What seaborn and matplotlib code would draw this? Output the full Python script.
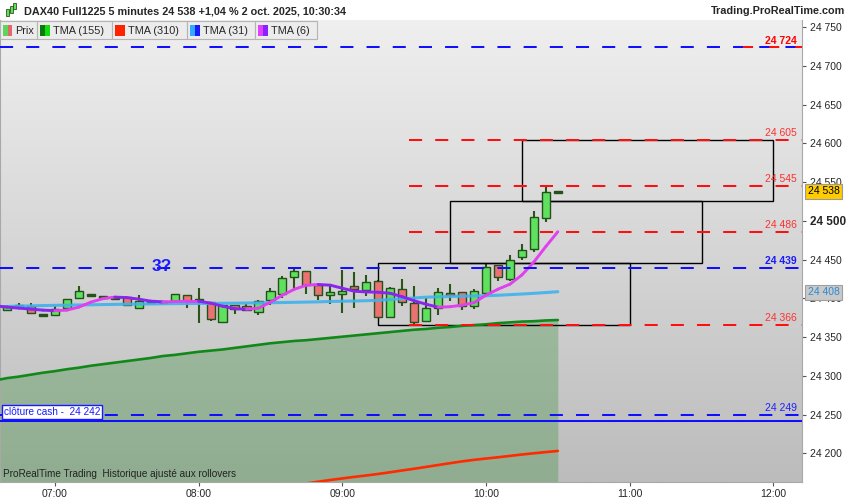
import numpy as np
import matplotlib
matplotlib.use("Agg")
import matplotlib.pyplot as plt
from matplotlib.collections import LineCollection
from matplotlib.colors import LinearSegmentedColormap
from matplotlib.patches import Rectangle
import matplotlib.transforms as mtransforms
import seaborn as sns

sns.set_theme(style="white")
plt.rcParams["font.family"] = ["Liberation Sans", "DejaVu Sans"]

# 5 min candles, first one at 06:40
first_candle = "06:40"
opens  = [24385, 24391, 24390, 24379, 24378, 24387, 24401, 24404, 24402, 24401,
          24402, 24387, 24395, 24395, 24396, 24404, 24398, 24395, 24370, 24391,
          24390, 24382, 24398, 24406, 24427, 24435, 24417, 24404, 24405, 24416,
          24411, 24422, 24376, 24412, 24394, 24371, 24387, 24407, 24408, 24390,
          24407, 24443, 24425, 24453, 24464, 24504, 24537]
highs  = [24392, 24394, 24394, 24379, 24390, 24399, 24416, 24405, 24402, 24401,
          24402, 24404, 24396, 24396, 24405, 24404, 24413, 24395, 24391, 24392,
          24393, 24398, 24413, 24429, 24439, 24435, 24420, 24419, 24437, 24434,
          24430, 24424, 24415, 24425, 24416, 24400, 24413, 24419, 24408, 24412,
          24446, 24443, 24456, 24470, 24513, 24546, 24539]
lows   = [24384, 24388, 24380, 24378, 24378, 24387, 24401, 24404, 24401, 24400,
          24391, 24387, 24393, 24394, 24396, 24388, 24368, 24371, 24369, 24380,
          24384, 24378, 24391, 24401, 24412, 24406, 24398, 24393, 24381, 24387,
          24403, 24376, 24376, 24390, 24367, 24371, 24378, 24396, 24385, 24386,
          24407, 24422, 24423, 24450, 24460, 24499, 24537]
closes = [24390, 24390, 24381, 24378, 24386, 24399, 24410, 24404, 24402, 24400,
          24391, 24396, 24395, 24395, 24405, 24396, 24397, 24373, 24391, 24386,
          24385, 24396, 24409, 24426, 24435, 24417, 24404, 24408, 24409, 24412,
          24421, 24376, 24413, 24395, 24369, 24388, 24408, 24404, 24390, 24410,
          24440, 24427, 24450, 24463, 24505, 24537, 24538]

# moving averages, first value is the bar before 06:40 (left edge)
tma155 = [24294, 24297, 24299, 24301.5, 24304, 24306, 24308.5, 24310.5, 24313, 24315,
          24317, 24319, 24321, 24323, 24325.5, 24327, 24329, 24331, 24332.5, 24334,
          24336, 24338, 24340, 24342, 24343.5, 24345, 24346, 24347.5, 24349, 24350.5,
          24352, 24353.5, 24355, 24356.5, 24358, 24359.5, 24360.5, 24362, 24363, 24364.5,
          24365.5, 24366.5, 24368, 24369, 24370, 24370.5, 24371.5, 24372]
tma31 = [24389, 24389.5, 24390, 24390.3, 24390.7, 24391, 24391.2, 24391.5, 24391.7, 24392,
         24392.2, 24392.5, 24392.6, 24392.8, 24393, 24393.2, 24393.3, 24393.4, 24393.5, 24393.6,
         24393.8, 24394, 24394.2, 24394.4, 24394.6, 24394.9, 24395.2, 24395.5, 24396, 24396.3,
         24396.6, 24397, 24397.5, 24398.5, 24399.5, 24400.5, 24401.5, 24402, 24402.4, 24402.8,
         24403.1, 24403.4, 24404, 24404.8, 24405.6, 24406.5, 24407.5, 24408.6]
tma6 = [24390.5, 24388.7, 24387.4, 24386.1, 24384.8, 24384.1, 24384.8, 24388.7, 24395.1, 24399.6,
        24401.6, 24401, 24399, 24396.4, 24395.5, 24395.8, 24396.4, 24396.4, 24393.8, 24389.9,
        24386.7, 24386, 24387.3, 24395.1, 24404.1, 24411.8, 24417, 24417.9, 24417, 24413.1,
        24409.2, 24408.3, 24407.9, 24406.6, 24402.1, 24396.9, 24392.4, 24388.6, 24389.2, 24391.2,
        24394.4, 24404.1, 24411.8, 24418.3, 24430.2, 24447, 24467, 24486]
# TMA 310 only shown from 08:45 on (below the chart before)
tma310_start = "08:45"
tma310 = [24161, 24163.3, 24165.5, 24167.5, 24169.5, 24171.3, 24173.3, 24175.5, 24177.8, 24180,
          24182.4, 24184.8, 24187.2, 24189.5, 24191.5, 24193.2, 24194.8, 24196.6, 24198.4, 24200,
          24201.5, 24203]

red_levels = [24605, 24545, 24486, 24366]
red_start = "09:28"
blue_levels = [24439, 24249]
top_level = 24724
cash_close = 24242

box_start = ["09:15", "09:45", "10:15"]
box_end = ["11:00", "11:30", "12:00"]
box_low = [24366, 24446, 24526]
box_high = [24446, 24526, 24605]

time_ticks = ["07:00", "08:00", "09:00", "10:00", "11:00", "12:00"]
price_ticks = list(range(24200, 24751, 50))
last_price = 24538
tma31_last = 24408


def tpos(s):
    hh, mm = map(int, s.split(":"))
    h0, m0 = map(int, first_candle.split(":"))
    return (hh * 60 + mm - h0 * 60 - m0) / 5


def fmt(v):
    return f"{v:,.0f}".replace(",", " ")


W, H = 850, 500
fig = plt.figure(figsize=(W / 100, H / 100), dpi=100)
fig.patch.set_facecolor("white")
ax = fig.add_axes([0.0, 18 / H, 802 / W, 462 / H])

x0, x1 = -0.585, 66.39
y0, y1 = 24162.9, 24759.4

# grey gradient background
grad = LinearSegmentedColormap.from_list("bg", ["#efefef", "#bcbcbc"])
ax.imshow(np.linspace(0, 1, 256).reshape(-1, 1), cmap=grad, aspect="auto",
          extent=[x0, x1, y0, y1], origin="upper", zorder=0)

idx = np.arange(len(opens))
ma_idx = np.arange(-1, len(opens))
o, hi, lo, c = map(np.array, (opens, highs, lows, closes))
up = c >= o
doji = np.abs(c - o) < 1.5

# green area under TMA 155
ax.fill_between(ma_idx, tma155, y0, color="#2e8b2e", alpha=0.3, lw=0, zorder=1)

# candles (flat ones drawn as a thick dark dash)
wick = "#2c5418"
ax.vlines(idx, lo, hi, color=wick, lw=1.5, zorder=4)
body_col = np.where(doji, wick, np.where(up, "#5fe05f", "#ec7272"))
body_h = np.where(doji, 2.4, np.abs(c - o))
body_b = np.where(doji, (o + c) / 2 - 1.2, np.minimum(o, c))
ax.bar(idx, body_h, bottom=body_b, width=0.68, color=body_col, edgecolor="#24501a",
       linewidth=1.0, zorder=5)

# range boxes
for s, e, lo_, hi_ in zip(box_start, box_end, box_low, box_high):
    ax.add_patch(Rectangle((tpos(s), lo_), tpos(e) - tpos(s), hi_ - lo_, fill=False,
                           edgecolor="black", lw=1.0, zorder=4.5))

# moving averages
sns.lineplot(x=ma_idx, y=tma155, color="#13881a", lw=1.9, ax=ax, zorder=6)
r_idx = np.arange(tpos(tma310_start), tpos(tma310_start) + len(tma310))
sns.lineplot(x=r_idx, y=tma310, color="#ff2a00", lw=1.9, ax=ax, zorder=6)
sns.lineplot(x=ma_idx, y=tma31, color="#3fb2ee", lw=2.2, alpha=0.9, ax=ax, zorder=6)
pts = np.column_stack([ma_idx, tma6])
segs = np.stack([pts[:-1], pts[1:]], axis=1)
seg_cols = np.where(np.diff(tma6) >= 0, "#e040ee", "#8a24ee")
ax.add_collection(LineCollection(segs, colors=seg_cols, linewidths=2.1, zorder=6, capstyle="round"))

# horizontal levels
dash = (6.5, 6.5)
ax.plot([x0, x1], [top_level] * 2, color="#1010ff", lw=1.45, dashes=dash, zorder=7)
ax.plot([61.5, x1], [top_level] * 2, color="#ff1010", lw=1.45, dashes=(5, 8), zorder=7)
for lv in blue_levels:
    ax.plot([x0, x1], [lv] * 2, color="#1010ff", lw=1.45, dashes=dash, zorder=7)
for lv in red_levels:
    ax.plot([tpos(red_start), x1], [lv] * 2, color="#ff1010", lw=1.45, dashes=dash, zorder=7)
ax.axhline(cash_close, color="#1010ff", lw=1.45, zorder=7)

# level labels at the right edge
lab_x = 797 / 802
blend = mtransforms.blended_transform_factory(ax.transAxes, ax.transData)
ax.annotate(fmt(top_level), (lab_x, top_level), xycoords=blend, xytext=(0, 1), textcoords="offset points",
            ha="right", va="bottom", color="#ff0000", fontsize=7.5, fontweight="bold", zorder=8)
for lv in red_levels:
    ax.annotate(fmt(lv), (lab_x, lv), xycoords=blend, xytext=(0, 1.5), textcoords="offset points",
                ha="right", va="bottom", color="#ff3030", fontsize=7.5, zorder=8)
ax.annotate(fmt(blue_levels[0]), (lab_x, blue_levels[0]), xycoords=blend, xytext=(0, 1.5),
            textcoords="offset points", ha="right", va="bottom", color="#1a1aff", fontsize=7.5,
            fontweight="bold", zorder=8)
ax.annotate(fmt(blue_levels[1]), (lab_x, blue_levels[1]), xycoords=blend, xytext=(0, 1.5),
            textcoords="offset points", ha="right", va="bottom", color="#2020ff", fontsize=7.5, zorder=8)

ax.text(12.95, 24441, "3?", color="#1a1aff", fontsize=12.5, fontweight="bold",
        ha="center", va="center", zorder=8)
ax.annotate("clôture cash -  " + fmt(cash_close), (0.002, cash_close), xycoords=blend,
            xytext=(1.5, 3), textcoords="offset points", ha="left", va="bottom", color="#1a1aff",
            fontsize=7.2, zorder=9,
            bbox=dict(boxstyle="square,pad=0.2", fc="white", ec="#1a1aff", lw=1.0))
ax.text(0.004, 24167, "ProRealTime Trading  Historique ajusté aux rollovers", transform=blend,
        fontsize=7.2, color="#222222", ha="left", va="bottom", zorder=8)

# axes setup
ax.set_xlim(x0, x1)
ax.set_ylim(y0, y1)
ax.set_xticks([tpos(t) for t in time_ticks])
ax.set_xticklabels(time_ticks, fontsize=7.5)
ax.yaxis.tick_right()
ax.set_yticks(price_ticks)
ax.set_yticklabels([fmt(p) for p in price_ticks], fontsize=7.5)
for lbl in ax.get_yticklabels():
    if lbl.get_text() == "24 500":
        lbl.set_fontweight("bold")
        lbl.set_fontsize(8.5)
ax.tick_params(axis="both", direction="out", length=3, width=0.8, color="#555555", pad=2)
ax.tick_params(axis="y", pad=3)
ax.tick_params(bottom=True, right=True, left=False)
ax.set_xlabel("")
ax.set_ylabel("")
for sp in ax.spines.values():
    sp.set_color("#a8a8a8")
    sp.set_linewidth(0.8)
ax.spines["top"].set_visible(False)

# price boxes on the axis
lab_tr = mtransforms.blended_transform_factory(ax.transAxes, ax.transData)
ax.text(807.5 / 802, last_price, fmt(last_price), transform=lab_tr, fontsize=7.5, color="black",
        ha="left", va="center", zorder=10, clip_on=False,
        bbox=dict(boxstyle="square,pad=0.25", fc="#ffcc00", ec="#999999", lw=0.8))
ax.text(807.5 / 802, tma31_last, fmt(tma31_last), transform=lab_tr, fontsize=7.5, color="#2a8ad4",
        ha="left", va="center", zorder=10, clip_on=False,
        bbox=dict(boxstyle="square,pad=0.25", fc="#c9c9c9", ec="#a0a0a0", lw=0.8))


# header bar and legend strip (pixel coords)
def fx(px):
    return px / W


def fy(py):
    return 1 - py / H


fig.add_artist(Rectangle((0, fy(20)), 1, 20 / H, transform=fig.transFigure, fc="white", ec="none", zorder=1))
for cx, ctop, cbot in [(7, 9, 16), (11, 6, 13), (15, 3, 9)]:
    fig.add_artist(Rectangle((fx(cx - 1.5), fy(cbot)), 3 / W, (cbot - ctop) / H, transform=fig.transFigure,
                             fc="#5fe05f", ec="#2c5418", lw=0.6, zorder=2))
fig.text(fx(24), fy(11), "DAX40 Full1225 5 minutes 24 538 +1,04 % 2 oct. 2025, 10:30:34",
         fontsize=7.8, fontweight="bold", va="center", ha="left", zorder=3)
fig.text(fx(845), fy(11), "Trading.ProRealTime.com", fontsize=7.8, fontweight="bold",
         va="center", ha="right", zorder=3)

legend_names = ["Prix", "TMA (155)", "TMA (310)", "TMA (31)", "TMA (6)"]
legend_cols = [("#5ed65e", "#e06a6a"), ("#0b7a0b", "#11dd11"), ("#ff2200", "#ff2200"),
               ("#33aaff", "#1a1aff"), ("#e040ff", "#8822ff")]
legend_edges = [0, 37.3, 112.3, 187.3, 255.3, 316.7]
for name, cols, left, right in zip(legend_names, legend_cols, legend_edges[:-1], legend_edges[1:]):
    fig.add_artist(Rectangle((fx(left), fy(39)), (right - left) / W, 18 / H, transform=fig.transFigure,
                             fc="#ececec", ec="#b4b4b4", lw=0.8, zorder=2))
    for k, col in enumerate(cols):
        fig.add_artist(Rectangle((fx(left + 3 + 4.7 * k), fy(36)), 4.7 / W, 11 / H, transform=fig.transFigure,
                                 fc=col, ec="none", zorder=3))
    fig.text(fx(left + 15.5), fy(30.5), name, fontsize=7.8, va="center", ha="left", zorder=4)

fig.savefig("out.png", dpi=100)
